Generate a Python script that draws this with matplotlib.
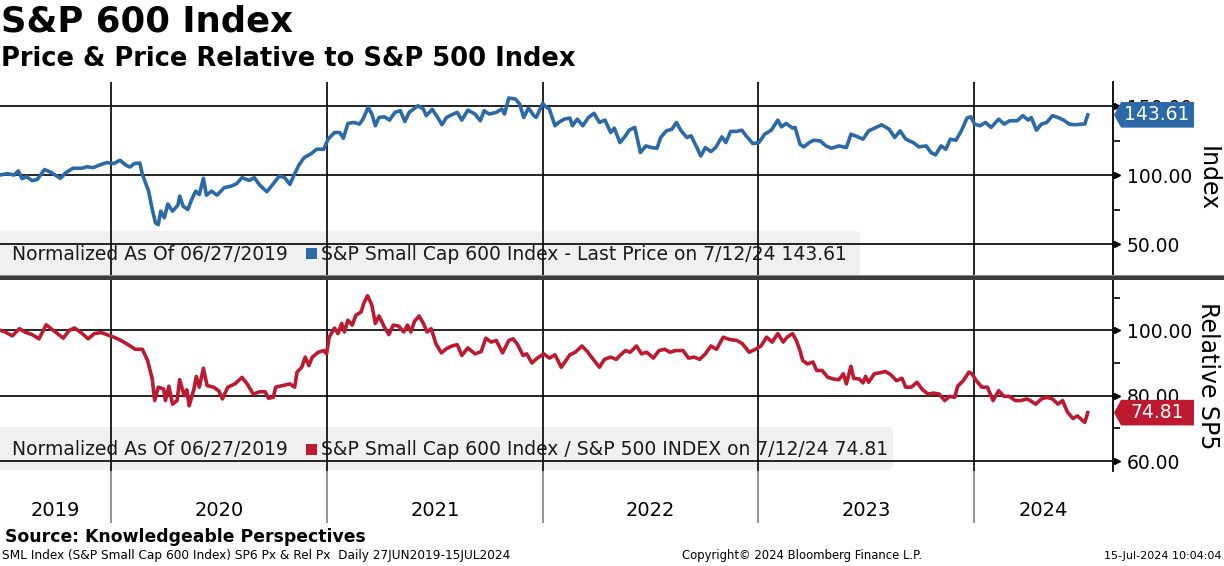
import matplotlib
matplotlib.use("Agg")
import matplotlib.pyplot as plt
import matplotlib.transforms as mtransforms
from matplotlib.patches import Polygon, FancyBboxPatch, Rectangle

# === Data (x = decimal year) ===
px_years = [2019.485, 2019.517, 2019.550, 2019.569, 2019.586, 2019.607, 2019.632, 2019.657, 2019.690, 2019.723,
            2019.764, 2019.789, 2019.822, 2019.863, 2019.888, 2019.916, 2019.946, 2019.979, 2020.012, 2020.040,
            2020.069, 2020.086, 2020.107, 2020.132, 2020.144, 2020.157, 2020.173, 2020.190, 2020.205, 2020.218,
            2020.229, 2020.246, 2020.262, 2020.284, 2020.309, 2020.317, 2020.333, 2020.355, 2020.371, 2020.391,
            2020.408, 2020.427, 2020.441, 2020.465, 2020.490, 2020.523, 2020.556, 2020.581, 2020.606, 2020.639,
            2020.663, 2020.688, 2020.721, 2020.746, 2020.779, 2020.804, 2020.828, 2020.845, 2020.870, 2020.894,
            2020.927, 2020.952, 2020.985, 2021.005, 2021.035, 2021.059, 2021.076, 2021.097, 2021.125, 2021.150,
            2021.167, 2021.191, 2021.208, 2021.224, 2021.241, 2021.266, 2021.290, 2021.315, 2021.340, 2021.361,
            2021.381, 2021.422, 2021.447, 2021.460, 2021.488, 2021.513, 2021.533, 2021.554, 2021.579, 2021.604,
            2021.625, 2021.653, 2021.686, 2021.711, 2021.728, 2021.752, 2021.785, 2021.810, 2021.823, 2021.843,
            2021.873, 2021.893, 2021.912, 2021.934, 2021.959, 2021.970, 2022.000, 2022.014, 2022.031, 2022.057,
            2022.074, 2022.100, 2022.126, 2022.138, 2022.160, 2022.186, 2022.212, 2022.238, 2022.263, 2022.289,
            2022.315, 2022.332, 2022.358, 2022.384, 2022.401, 2022.427, 2022.453, 2022.478, 2022.504, 2022.530,
            2022.547, 2022.573, 2022.599, 2022.620, 2022.642, 2022.668, 2022.688, 2022.711, 2022.733, 2022.754,
            2022.780, 2022.802, 2022.831, 2022.849, 2022.871, 2022.900, 2022.923, 2022.943, 2022.974, 2023.002,
            2023.029, 2023.060, 2023.090, 2023.107, 2023.129, 2023.158, 2023.170, 2023.193, 2023.210, 2023.236,
            2023.256, 2023.287, 2023.313, 2023.339, 2023.373, 2023.408, 2023.429, 2023.460, 2023.485, 2023.511,
            2023.546, 2023.571, 2023.606, 2023.632, 2023.657, 2023.683, 2023.718, 2023.744, 2023.778, 2023.800,
            2023.821, 2023.847, 2023.869, 2023.890, 2023.916, 2023.941, 2023.967, 2023.985, 2024.002, 2024.028,
            2024.053, 2024.079, 2024.114, 2024.139, 2024.165, 2024.200, 2024.226, 2024.251, 2024.265, 2024.289,
            2024.312, 2024.337, 2024.363, 2024.389, 2024.415, 2024.441, 2024.466, 2024.501, 2024.513, 2024.527]
px_values = [100.0, 101.0, 100.0, 103.0, 97.3, 98.8, 96.0, 96.8, 104.0, 101.7,
             97.6, 101.7, 104.9, 104.9, 106.0, 105.3, 107.3, 109.0, 108.3, 110.7,
             107.0, 105.8, 108.3, 108.7, 100.5, 95.1, 88.3, 75.0, 65.3, 64.0,
             73.8, 69.0, 79.0, 73.8, 78.2, 84.7, 77.4, 75.0, 81.6, 88.3,
             85.9, 97.6, 85.4, 88.3, 85.4, 90.8, 92.0, 93.7, 98.1, 96.1,
             98.1, 92.7, 87.9, 92.7, 99.3, 98.1, 93.2, 99.3, 107.3, 112.6,
             115.5, 118.7, 118.7, 126.0, 130.8, 130.8, 126.7, 137.4, 138.1, 136.9,
             140.5, 149.0, 144.2, 135.7, 141.7, 142.2, 139.8, 145.4, 146.6, 138.8,
             145.4, 150.2, 147.8, 143.0, 147.6, 141.7, 136.4, 141.7, 143.7, 145.4,
             139.8, 147.0, 144.2, 139.3, 146.6, 144.2, 145.4, 147.8, 144.2, 155.8,
             155.1, 151.5, 141.7, 148.5, 143.0, 141.7, 151.9, 149.5, 147.8, 135.7,
             138.1, 140.5, 141.3, 135.7, 140.5, 135.7, 141.7, 144.7, 138.1, 139.8,
             130.8, 134.0, 123.5, 128.4, 132.5, 134.5, 116.3, 121.1, 119.9, 119.4,
             127.2, 132.0, 133.2, 138.1, 132.0, 127.2, 128.4, 121.1, 113.8, 119.9,
             117.0, 119.9, 127.7, 123.5, 131.6, 131.6, 132.5, 128.4, 122.8, 123.5,
             129.6, 132.5, 139.8, 134.9, 137.4, 134.0, 134.5, 122.3, 120.4, 123.5,
             125.2, 124.7, 121.1, 119.4, 121.1, 119.9, 129.6, 127.7, 126.0, 132.0,
             134.5, 136.4, 133.2, 127.2, 132.0, 126.0, 123.5, 120.4, 121.1, 116.3,
             114.6, 121.1, 118.7, 126.0, 125.2, 132.0, 141.3, 142.2, 136.9, 135.7,
             138.1, 134.5, 140.5, 136.9, 139.3, 139.3, 143.0, 139.8, 141.7, 132.5,
             136.9, 138.1, 143.0, 141.7, 139.8, 136.9, 136.4, 136.9, 136.9, 143.61]

rel_years = [2019.485, 2019.508, 2019.541, 2019.574, 2019.599, 2019.632, 2019.665, 2019.698, 2019.731, 2019.777,
             2019.805, 2019.830, 2019.860, 2019.893, 2019.921, 2019.954, 2019.979, 2020.012, 2020.045, 2020.078,
             2020.111, 2020.144, 2020.168, 2020.190, 2020.201, 2020.218, 2020.243, 2020.251, 2020.267, 2020.284,
             2020.305, 2020.317, 2020.338, 2020.350, 2020.361, 2020.383, 2020.394, 2020.408, 2020.427, 2020.444,
             2020.474, 2020.498, 2020.515, 2020.540, 2020.573, 2020.606, 2020.630, 2020.658, 2020.688, 2020.713,
             2020.729, 2020.751, 2020.762, 2020.795, 2020.828, 2020.850, 2020.861, 2020.883, 2020.899, 2020.916,
             2020.932, 2020.960, 2020.985, 2020.998, 2021.010, 2021.035, 2021.051, 2021.068, 2021.081, 2021.097,
             2021.117, 2021.134, 2021.158, 2021.170, 2021.188, 2021.208, 2021.224, 2021.241, 2021.266, 2021.287,
             2021.307, 2021.332, 2021.356, 2021.373, 2021.389, 2021.406, 2021.427, 2021.447, 2021.464, 2021.483,
             2021.505, 2021.530, 2021.554, 2021.579, 2021.604, 2021.625, 2021.653, 2021.686, 2021.715, 2021.736,
             2021.761, 2021.785, 2021.814, 2021.843, 2021.863, 2021.884, 2021.909, 2021.926, 2021.950, 2021.975,
             2022.005, 2022.031, 2022.057, 2022.086, 2022.108, 2022.126, 2022.151, 2022.182, 2022.207, 2022.238,
             2022.263, 2022.286, 2022.315, 2022.341, 2022.358, 2022.384, 2022.406, 2022.435, 2022.458, 2022.482,
             2022.513, 2022.539, 2022.565, 2022.590, 2022.616, 2022.651, 2022.676, 2022.702, 2022.728, 2022.754,
             2022.780, 2022.806, 2022.837, 2022.866, 2022.900, 2022.926, 2022.957, 2022.986, 2023.012, 2023.038,
             2023.064, 2023.090, 2023.115, 2023.133, 2023.158, 2023.176, 2023.193, 2023.205, 2023.227, 2023.253,
             2023.270, 2023.296, 2023.322, 2023.348, 2023.373, 2023.394, 2023.408, 2023.429, 2023.442, 2023.468,
             2023.485, 2023.497, 2023.511, 2023.537, 2023.563, 2023.589, 2023.614, 2023.640, 2023.666, 2023.683,
             2023.709, 2023.735, 2023.761, 2023.787, 2023.812, 2023.838, 2023.864, 2023.886, 2023.910, 2023.924,
             2023.950, 2023.976, 2023.990, 2024.010, 2024.036, 2024.062, 2024.088, 2024.114, 2024.139, 2024.162,
             2024.191, 2024.217, 2024.243, 2024.260, 2024.286, 2024.312, 2024.337, 2024.363, 2024.389, 2024.410,
             2024.432, 2024.458, 2024.479, 2024.496, 2024.513, 2024.527]
rel_values = [100.0, 99.5, 98.3, 100.5, 99.5, 98.7, 97.4, 101.7, 100.0, 97.6,
              100.0, 100.7, 99.3, 97.4, 99.0, 99.3, 98.7, 97.9, 96.9, 95.6,
              94.2, 94.2, 90.8, 85.1, 78.5, 82.6, 82.0, 78.5, 82.9, 77.4,
              78.5, 84.9, 80.0, 81.8, 76.9, 82.0, 85.9, 82.6, 88.4, 83.1,
              82.6, 81.5, 79.0, 82.6, 83.6, 85.6, 83.6, 80.5, 81.2, 81.2,
              79.2, 79.5, 82.6, 83.1, 83.6, 82.6, 87.2, 88.7, 91.8, 89.2,
              91.8, 93.3, 93.8, 92.8, 97.9, 100.7, 99.0, 102.1, 99.5, 103.1,
              101.6, 104.6, 105.6, 108.2, 110.6, 107.7, 102.1, 104.4, 101.0, 98.7,
              101.6, 101.3, 99.5, 101.6, 99.5, 102.8, 104.4, 102.1, 99.5, 100.5,
              95.9, 93.1, 94.4, 95.2, 95.6, 92.3, 94.6, 92.8, 93.5, 97.6,
              96.4, 96.9, 93.1, 96.9, 97.4, 95.6, 92.3, 92.8, 90.0, 91.5,
              92.8, 91.5, 92.5, 88.7, 90.8, 92.5, 93.3, 95.2, 93.5, 90.8,
              88.7, 91.1, 91.8, 91.1, 92.3, 93.8, 93.3, 95.2, 92.8, 93.3,
              91.5, 93.8, 94.2, 93.3, 93.8, 93.8, 91.5, 91.8, 91.1, 92.8,
              95.2, 94.2, 97.9, 97.2, 96.9, 95.9, 93.3, 94.2, 95.2, 97.9,
              96.4, 99.0, 96.4, 97.9, 99.0, 96.9, 93.8, 90.8, 89.7, 90.3,
              87.7, 87.7, 85.6, 85.1, 84.9, 86.7, 83.6, 89.0, 85.3, 85.1,
              83.9, 85.9, 84.1, 86.7, 87.0, 87.4, 86.4, 84.6, 85.3, 82.6,
              82.6, 84.1, 81.8, 80.5, 80.8, 80.5, 78.5, 79.8, 79.5, 82.9,
              84.6, 87.2, 86.7, 84.6, 82.6, 82.6, 78.5, 81.5, 79.8, 79.8,
              78.5, 78.5, 79.0, 78.5, 77.4, 79.0, 79.5, 79.0, 77.4, 78.5,
              75.1, 73.0, 73.8, 72.8, 71.8, 74.81]

year_labels = ["2019", "2020", "2021", "2022", "2023", "2024"]
year_starts = [2020, 2021, 2022, 2023, 2024]
top_major = [50, 100, 150]
top_minor = [75, 125]
bot_major = [60, 80, 100]
bot_minor = [70, 90, 110]

BLUE = "#2c6aa7"
RED = "#bd1a31"
W, H = 1224, 566
XMIN, XMAX = 2019.484, 2024.644

plt.rcParams['font.family'] = ['DejaVu Sans']
fig = plt.figure(figsize=(W / 100, H / 100), dpi=100)
ident = mtransforms.IdentityTransform()


def rect(x0, y0, x1, y1):
    # pixel box measured from the top-left -> figure fraction
    return [x0 / W, 1 - y1 / H, (x1 - x0) / W, (y1 - y0) / H]


def fig_text(x, y, s, **kw):
    fig.text(x / W, 1 - y / H, s, **kw)


ax1 = fig.add_axes(rect(0, 82, 1113, 275.5))
ax2 = fig.add_axes(rect(0, 280, 1113, 470.5))
axb = fig.add_axes(rect(0, 470.5, 1113, 523))


def style_panel(ax, ylim, majors, minors, label):
    ax.set_xlim(XMIN, XMAX)
    ax.set_ylim(*ylim)
    ax.patch.set_visible(False)
    for s in ["top", "left", "bottom"]:
        ax.spines[s].set_visible(False)
    ax.spines["right"].set_linewidth(1.3)
    ax.set_xticks([])
    ax.yaxis.tick_right()
    ax.set_yticks(majors)
    ax.set_yticks(minors, minor=True)
    ax.set_yticklabels([f"{v:.2f}" for v in majors])
    ax.tick_params(axis="y", which="major", length=0, pad=10, labelsize=13.5)
    ax.tick_params(axis="y", which="minor", length=5, width=1.2)
    for v in majors:
        ax.axhline(v, color="black", lw=1.2, zorder=2)
    for yr in year_starts:
        ax.axvline(yr, color="black", lw=1.2, zorder=2)
    # arrow heads on the major ticks
    tr = mtransforms.blended_transform_factory(ax.transAxes, ax.transData)
    tr = tr + mtransforms.ScaledTranslation(4 / 100, 0, fig.dpi_scale_trans)
    ax.plot([1.0] * len(majors), majors, ">", ms=5, color="black",
            transform=tr, clip_on=False, zorder=4)
    ax.text(1208 / 1113, 0.5, label, transform=ax.transAxes, rotation=-90,
            ha="center", va="center", fontsize=17)


style_panel(ax1, (27.2, 167.4), top_major, top_minor, "Index")
style_panel(ax2, (57.1, 115.4), bot_major, bot_minor, "Relative SP5")

ax1.plot(px_years, px_values, color=BLUE, lw=2.6, zorder=3, solid_joinstyle="round")
ax2.plot(rel_years, rel_values, color=RED, lw=2.6, zorder=3, solid_joinstyle="round")


def legend_box(ax, y0, y1, x1, color, text):
    box = FancyBboxPatch((-10, H - y1), x1 + 10, y1 - y0,
                         boxstyle="round,pad=0,rounding_size=5",
                         transform=ident, facecolor="#f0f0f0", edgecolor="none",
                         zorder=1, clip_on=False)
    ax.add_patch(box)
    yc = (y0 + y1) / 2 + 1
    fig_text(12, yc, "Normalized As Of 06/27/2019", fontsize=13.5, va="center",
             color="#1a1a1a")
    fig.add_artist(Rectangle((306, H - yc - 5), 11, 11, transform=ident,
                             facecolor=color, edgecolor="none"))
    fig_text(321, yc, text, fontsize=13.5, va="center", color="#1a1a1a")


legend_box(ax1, 231, 275.5, 860, BLUE,
           "S&P Small Cap 600 Index - Last Price on 7/12/24 143.61")
legend_box(ax2, 427, 470, 893, RED,
           "S&P Small Cap 600 Index / S&P 500 INDEX on 7/12/24 74.81")


def value_tag(ax, value, color):
    xs, yc = ax.transData.transform((XMAX, value))
    pts = [(xs + 1, yc), (xs + 8, yc + 12.8), (xs + 81, yc + 12.8),
           (xs + 81, yc - 12.8), (xs + 8, yc - 12.8)]
    fig.add_artist(Polygon(pts, closed=True, transform=ident, facecolor=color,
                           edgecolor="none", zorder=5))
    fig.text(xs + 44, yc, f"{value:.2f}", transform=ident, color="white",
             fontsize=13.5, ha="center", va="center", zorder=6)


value_tag(ax1, px_values[-1], BLUE)
value_tag(ax2, rel_values[-1], RED)

# divider between the panels
fig.add_artist(Rectangle((0, H - 280), W, 4.5, transform=ident,
                         facecolor="#3c3c3c", edgecolor="none"))
fig.add_artist(Rectangle((0, H - 276), W, 0.8, transform=ident,
                         facecolor="#8a8a8a", edgecolor="none"))

# year band
axb.set_xlim(XMIN, XMAX)
axb.set_ylim(0, 1)
axb.axis("off")
for yr in year_starts:
    axb.axvline(yr, color="#8c8c8c", lw=1.3)
edges = [XMIN] + year_starts + [XMAX]
for i, lab in enumerate(year_labels):
    axb.text((edges[i] + edges[i + 1]) / 2, 0.23, lab, ha="center", va="center",
             fontsize=14)

# titles and footer
fig_text(1, 4, "S&P 600 Index", fontsize=25.5, fontweight="bold", va="top")
fig_text(1, 46, "Price & Price Relative to S&P 500 Index", fontsize=18.5,
         fontweight="bold", va="top")
fig_text(5, 537, "Source: Knowledgeable Perspectives", fontsize=12.4,
         fontweight="bold", va="center")
fig_text(2, 556, "SML Index (S&P Small Cap 600 Index) SP6 Px & Rel Px  Daily 27JUN2019-15JUL2024",
         fontsize=8.7, va="center")
fig_text(682, 556, "Copyright\u00a9 2024 Bloomberg Finance L.P.", fontsize=8.35, va="center")
fig_text(1222, 556, "15-Jul-2024 10:04:04", fontsize=8, va="center", ha="right")

fig.savefig("out.png", dpi=100)
